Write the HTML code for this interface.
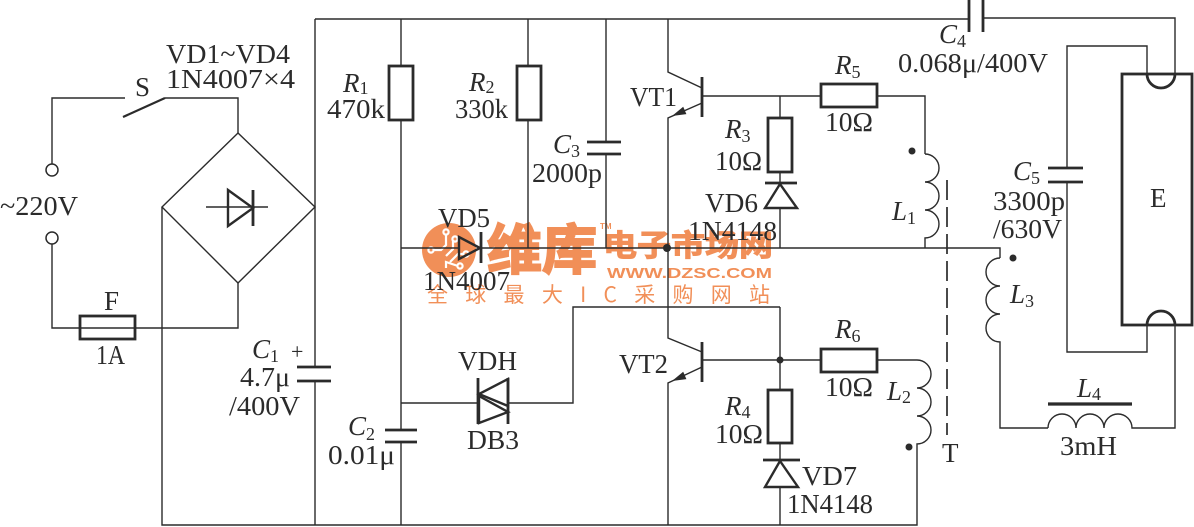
<!DOCTYPE html>
<html><head><meta charset="utf-8"><style>
html,body{margin:0;padding:0;background:#fff;}
svg{display:block;}
text{font-family:"Liberation Serif","Noto Serif CJK SC",serif;fill:#2b2b2b;}
.w{fill:none;stroke:#2b2b2b;stroke-width:1.4;}
.t{fill:none;stroke:#2b2b2b;stroke-width:2.8;}
.wm{fill:#F0864A;font-family:"Noto Sans CJK SC","WenQuanYi Zen Hei",sans-serif;font-weight:bold;}
</style></head><body>
<svg width="1194" height="527" viewBox="0 0 1194 527" font-size="27">
<rect width="1194" height="527" fill="#fff"/>
<!-- watermark -->
<g opacity="0.92">
<circle cx="449" cy="250" r="27" fill="#F0864A"/>
<g fill="none" stroke="#fff" stroke-width="2.2">
<path d="M433,250 H441 L446,245 V234"/>
<path d="M446,256 L453,249 V240"/>
<path d="M450,262 L458,254 H464"/>
<path d="M446,268 V262 L458,266"/>
<circle cx="431" cy="250" r="2.6"/>
<circle cx="446" cy="232" r="2.6"/>
<circle cx="455" cy="239" r="2.6"/>
<circle cx="466" cy="254" r="2.6"/>
<circle cx="460" cy="266" r="2.6"/>
</g>
<text class="wm" x="487" y="269" style="font-size:54px" stroke="#F0864A" stroke-width="2" textLength="110" lengthAdjust="spacingAndGlyphs">维库</text>
<text class="wm" x="603" y="256" style="font-size:30px" stroke="#F0864A" stroke-width="1" textLength="170" lengthAdjust="spacingAndGlyphs">电子市场网</text>
<text class="wm" x="600" y="229" style="font-size:8px;font-family:'Liberation Sans',sans-serif">TM</text>
<text class="wm" x="607" y="278" style="font-size:15px;font-family:'Liberation Sans',sans-serif" textLength="165" lengthAdjust="spacingAndGlyphs">WWW.DZSC.COM</text>
<text class="wm" x="427" y="302" style="font-size:21px;font-weight:normal" textLength="343" lengthAdjust="spacing">全球最大IC采购网站</text>
</g>

<!-- wires -->
<g class="w">
<path d="M52,164 V98 H125"/>
<path d="M165,98 H238 V133"/>
<path d="M238,133 L162,207 L238,283 L315,207 Z"/>
<path d="M162,207 V525 H917 V445"/>
<path d="M52,244 V328 H238 V283"/>
<path d="M315,19 V367 M315,381 V525"/>
<path d="M315,19 H969 M983,18 H1175 V74"/>
<path d="M401,19 V66 M401,120 V430 M401,442 V525"/>
<path d="M528,19 V66 M528,120 V248"/>
<path d="M606,19 V142 M606,154 V248"/>
<path d="M668,19 V72 L702,88 M702,103 L668,118 V338 L702,352 M702,367 L668,383 V525"/>
<path d="M702,96 H821 M877,96 H925 V154"/>
<path d="M780,96 V118 M780,172 V183 M780,208 V248"/>
<path d="M401,248 H459 M481,248 H1000 V258"/>
<path d="M925,154 a14,14 0 0 1 0,28 a14,14 0 0 1 0,28 a14,14 0 0 1 0,28 V248"/>
<path d="M1000,258 a14,14 0 0 0 0,28 a14,14 0 0 0 0,28 a14,14 0 0 0 0,28 V428 H1048"/>
<path d="M1048,428 a14,14 0 0 1 28,0 a14,14 0 0 1 28,0 a14,14 0 0 1 28,0 H1175 V325"/>
<path d="M1147,74 V46 H1067 V168 M1067,182 V352 H1147 V325"/>
<path d="M780,307 V390 M780,443 V460 M780,487 V525"/>
<path d="M702,360 H821 M877,360 H917"/>
<path d="M917,360 a14,14 0 0 1 0,28 a14,14 0 0 1 0,28 a14,14 0 0 1 0,28 V445"/>
<path d="M401,403 H478 M508,403 H573 V307 H780"/>
<path d="M206,207 H268"/>
<path d="M123,117 L165,98" stroke-width="2.2"/>
<circle cx="52" cy="170" r="6" stroke-width="1.5"/>
<circle cx="52" cy="238" r="6" stroke-width="1.5"/>
<path d="M947,180 V435" stroke-width="1.7" stroke-dasharray="20 7"/>
</g>

<!-- thick components -->
<g class="t">
<rect x="80" y="316" width="55" height="23"/>
<rect x="389" y="66" width="24" height="54"/>
<rect x="517" y="66" width="24" height="54"/>
<rect x="768" y="118" width="24" height="54"/>
<rect x="768" y="390" width="24" height="53"/>
<rect x="821" y="84" width="56" height="23"/>
<rect x="821" y="349" width="56" height="23"/>
<rect x="1122" y="74" width="70" height="251"/>
<path d="M1147,74 A14,14 0 0 0 1175,74"/>
<path d="M1147,325 A14,14 0 0 1 1175,325"/>
<path d="M297,367 H331 M297,381 H331"/>
<path d="M385,430 H417 M385,442 H417"/>
<path d="M587,142 H621 M587,154 H621"/>
<path d="M969,0 V32 M983,0 V32"/>
<path d="M1048,168 H1083 M1048,182 H1083"/>
<path d="M1048,404 H1132" stroke-width="3.2"/>
<path d="M702,77 V117 M702,342 V382"/>
<path d="M478,378 V424 M508,378 V424"/>
<path d="M481,232 V263"/>
<path d="M253,190 V226"/>
<path d="M765,183 H797 M763,460 H800"/>
</g>
<g fill="none" stroke="#2b2b2b" stroke-width="2.4" stroke-linejoin="miter">
<polygon points="228,190 228,226 253,208"/>
<polygon points="459,237 459,259 480,248"/>
<polygon points="780,184 765,208 797,208"/>
<polygon points="780,461 765,487 798,487"/>
<polygon points="508,379 508,406 479,394"/>
<polygon points="479,396 479,423 508,412"/>
</g>
<g fill="#2b2b2b">
<polygon points="672,116 686.4,114.1 683.2,106.7"/>
<polygon points="672,381 686.4,379.1 683.2,371.7"/>
<circle cx="667" cy="248" r="4"/>
<circle cx="780" cy="360" r="3.5"/>
<circle cx="912" cy="151" r="3.5"/>
<circle cx="1013" cy="258" r="3.5"/>
<circle cx="909" cy="447" r="3.5"/>
</g>

<!-- labels -->
<text x="166" y="63" textLength="124" lengthAdjust="spacingAndGlyphs">VD1~VD4</text>
<text x="166" y="88" textLength="129" lengthAdjust="spacingAndGlyphs">1N4007×4</text>
<text x="135" y="96">S</text>
<text x="0" y="215" textLength="78" lengthAdjust="spacingAndGlyphs">~220V</text>
<text x="104" y="310">F</text>
<text x="96" y="364" textLength="29" lengthAdjust="spacingAndGlyphs">1A</text>
<text x="252" y="358"><tspan font-style="italic">C</tspan><tspan font-size="18" dy="4">1</tspan></text>
<text x="291" y="359" style="font-size:22px">+</text>
<text x="240" y="386" textLength="50" lengthAdjust="spacingAndGlyphs">4.7μ</text>
<text x="229" y="415" textLength="71" lengthAdjust="spacingAndGlyphs">/400V</text>
<text x="348" y="435"><tspan font-style="italic">C</tspan><tspan font-size="18" dy="5">2</tspan></text>
<text x="328" y="464" textLength="67" lengthAdjust="spacingAndGlyphs">0.01μ</text>
<text x="343" y="92"><tspan font-style="italic">R</tspan><tspan font-size="18" dy="2">1</tspan></text>
<text x="327" y="118" textLength="58" lengthAdjust="spacingAndGlyphs">470k</text>
<text x="469" y="91"><tspan font-style="italic">R</tspan><tspan font-size="18" dy="2">2</tspan></text>
<text x="455" y="118" textLength="53" lengthAdjust="spacingAndGlyphs">330k</text>
<text x="553" y="153"><tspan font-style="italic">C</tspan><tspan font-size="18" dy="4">3</tspan></text>
<text x="532" y="182" textLength="70" lengthAdjust="spacingAndGlyphs">2000p</text>
<text x="630" y="106" textLength="47" lengthAdjust="spacingAndGlyphs">VT1</text>
<text x="725" y="138"><tspan font-style="italic">R</tspan><tspan font-size="18" dy="4">3</tspan></text>
<text x="715" y="170" textLength="47" lengthAdjust="spacingAndGlyphs">10Ω</text>
<text x="705" y="212" textLength="53" lengthAdjust="spacingAndGlyphs">VD6</text>
<text x="688" y="240" textLength="89" lengthAdjust="spacingAndGlyphs">1N4148</text>
<text x="835" y="74"><tspan font-style="italic">R</tspan><tspan font-size="18" dy="4">5</tspan></text>
<text x="825" y="131" textLength="48" lengthAdjust="spacingAndGlyphs">10Ω</text>
<text x="939" y="43"><tspan font-style="italic">C</tspan><tspan font-size="18" dy="4">4</tspan></text>
<text x="898" y="72" textLength="150" lengthAdjust="spacingAndGlyphs">0.068μ/400V</text>
<text x="1013" y="180"><tspan font-style="italic">C</tspan><tspan font-size="18" dy="4">5</tspan></text>
<text x="993" y="210" textLength="72" lengthAdjust="spacingAndGlyphs">3300p</text>
<text x="993" y="238" textLength="69" lengthAdjust="spacingAndGlyphs">/630V</text>
<text x="1150" y="207">E</text>
<text x="892" y="220"><tspan font-style="italic">L</tspan><tspan font-size="18" dy="4">1</tspan></text>
<text x="1010" y="303"><tspan font-style="italic">L</tspan><tspan font-size="18" dy="4">3</tspan></text>
<text x="1077" y="397"><tspan font-style="italic">L</tspan><tspan font-size="18" dy="3">4</tspan></text>
<text x="1060" y="455" textLength="57" lengthAdjust="spacingAndGlyphs">3mH</text>
<text x="942" y="462">T</text>
<text x="835" y="338"><tspan font-style="italic">R</tspan><tspan font-size="18" dy="4">6</tspan></text>
<text x="825" y="396" textLength="48" lengthAdjust="spacingAndGlyphs">10Ω</text>
<text x="887" y="400"><tspan font-style="italic">L</tspan><tspan font-size="18" dy="3">2</tspan></text>
<text x="802" y="485" textLength="55" lengthAdjust="spacingAndGlyphs">VD7</text>
<text x="787" y="513" textLength="86" lengthAdjust="spacingAndGlyphs">1N4148</text>
<text x="725" y="415"><tspan font-style="italic">R</tspan><tspan font-size="18" dy="3">4</tspan></text>
<text x="715" y="443" textLength="48" lengthAdjust="spacingAndGlyphs">10Ω</text>
<text x="619" y="373" textLength="49" lengthAdjust="spacingAndGlyphs">VT2</text>
<text x="458" y="370" textLength="59" lengthAdjust="spacingAndGlyphs">VDH</text>
<text x="467" y="449" textLength="52" lengthAdjust="spacingAndGlyphs">DB3</text>
<text x="438" y="227" textLength="52" lengthAdjust="spacingAndGlyphs">VD5</text>
<text x="423" y="290" textLength="87" lengthAdjust="spacingAndGlyphs">1N4007</text>
</svg>
</body></html>
